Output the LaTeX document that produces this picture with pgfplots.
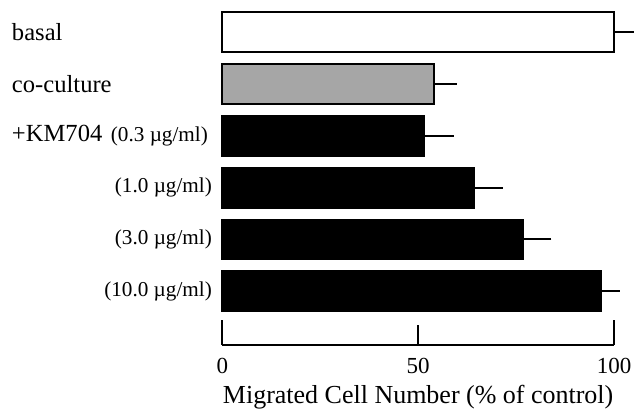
\documentclass[border=0pt]{standalone}
\usepackage{pgfplots}
\pgfplotsset{compat=1.18}
\usepackage{fontspec}
\setmainfont{Liberation Serif}

\newcommand{\nm}[1]{{\fontsize{12.3}{14}\selectfont #1}}
\newcommand{\cc}[1]{{\fontsize{10.6}{12}\selectfont (#1~µg/ml)}}
\newcommand{\lab}[1]{\makebox[106pt]{\hspace{6pt}#1}}

\begin{document}
\begin{tikzpicture}[trim right=206pt]
\begin{axis}[
    scale only axis,
    width=196pt, height=172.5pt,
    xmin=0, xmax=100,
    ymin=-1.03, ymax=5.617,
    xbar, bar width=20pt, bar shift=0pt,
    clip=false,
    axis x line*=bottom, axis y line*=left,
    y axis line style={draw=none},
    x axis line style={line width=1pt},
    ytick={0,...,5}, ytick style={draw=none}, ytick align=inside,
    yticklabels={
        \lab{\hfill\cc{10.0}},
        \lab{\hfill\cc{3.0}},
        \lab{\hfill\cc{1.0}},
        \lab{\nm{+KM704}\hfill\cc{0.3}\hspace{2pt}},
        \lab{\nm{co-culture}\hfill},
        \lab{\nm{basal}\hfill}},
    yticklabel style={inner sep=0pt, anchor=east, xshift=-5pt},
    xtick={0,100}, extra x ticks={50},
    xtick align=inside, major tick length=12.5pt,
    extra x tick style={major tick length=10pt, xtick align=inside},
    xtick style={line width=1pt, black},
    /pgf/number format/assume math mode=true,
    xticklabel style={font=\fontsize{11.5}{13}\selectfont, yshift=-3pt},
    xlabel={Migrated Cell Number (\% of control)},
    xlabel style={font=\fontsize{13}{15}\selectfont, yshift=1pt},
    every axis plot/.append style={draw=black, line width=1pt},
    error bars/x dir=plus, error bars/x explicit, error bars/error mark=none,
    error bars/error bar style={line width=1pt},
]
\addplot[fill=white] coordinates {(100,5) +- (5.1,0)};
\addplot[fill=black!35] coordinates {(54,4) +- (6,0)};
\addplot[fill=black] coordinates {(51.6,3) +- (7.5,0)};
\addplot[fill=black] coordinates {(64.2,2) +- (7.5,0)};
\addplot[fill=black] coordinates {(76.7,1) +- (7.3,0)};
\addplot[fill=black] coordinates {(96.7,0) +- (4.8,0)};
\end{axis}
\end{tikzpicture}
\end{document}
